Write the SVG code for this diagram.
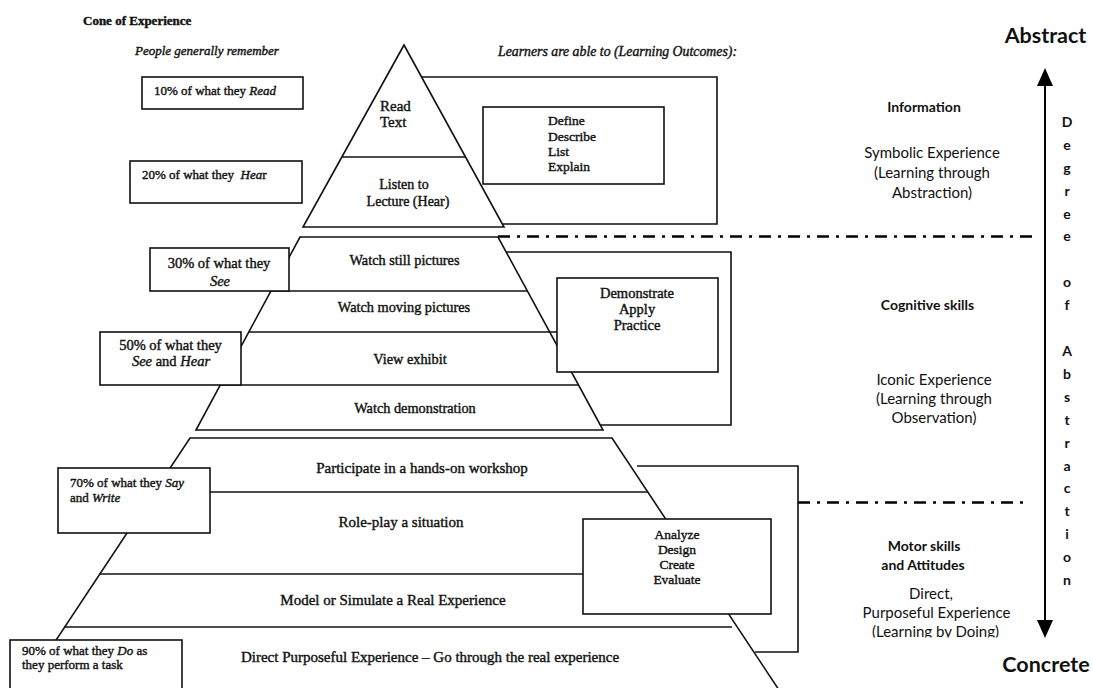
<svg xmlns="http://www.w3.org/2000/svg" width="1093" height="688" viewBox="0 0 1093 688">
  <style>
    .ln { fill: none; stroke: #111; stroke-width: 1.6; }
    .bx { fill: #fff; stroke: #111; stroke-width: 1.6; }
    .cone { fill: #fff; stroke: #111; stroke-width: 1.6; stroke-linejoin: miter; }
    .sf { font-family: "Liberation Serif", "Times New Roman", serif; fill: #111; stroke: #111; stroke-width: 0.4; }
    .it { font-style: italic; }
    .ss { font-family: Lato, "Liberation Sans", Arial, sans-serif; fill: #111; }
    .b { font-weight: bold; }
    .mid { text-anchor: middle; }
    .sep { fill: none; stroke: #000; stroke-width: 2.5; stroke-dasharray: 12 7 3 7; }
  </style>
  <defs>
    <marker id="head" markerWidth="18" markerHeight="16" refX="0" refY="8" orient="auto-start-reverse" markerUnits="userSpaceOnUse" viewBox="0 0 18 16">
      <path d="M0,0 L18,8 L0,16 Z" fill="#000"/>
    </marker>
    <clipPath id="cut-bottom">
      <rect x="840" y="600" width="200" height="37.5"/>
    </clipPath>
  </defs>

  <rect width="1093" height="688" fill="#fff"/>

  <!-- headings -->
  <g id="title">
    <text class="sf b" x="83" y="25" font-size="13">Cone of Experience</text>
    <text class="sf it" x="135" y="55" font-size="13">People generally remember</text>
    <text class="sf it" x="498" y="56" font-size="13.8">Learners are able to (Learning Outcomes):</text>
  </g>

  <!-- symbolic level: top of the cone -->
  <g id="outcome-symbolic">
    <path class="ln" d="M421,77 H717 V224 H503"/>
  </g>
  <g id="cone-symbolic">
    <path class="cone" d="M404,45 L303,227 L504,227 Z"/>
    <line class="ln" x1="342" y1="157" x2="465" y2="157"/>
    <text class="sf" x="380" y="111" font-size="15">Read</text>
    <text class="sf" x="380" y="127" font-size="15">Text</text>
    <text class="sf mid" x="404" y="189" font-size="14">Listen to</text>
    <text class="sf mid" x="408" y="206" font-size="14">Lecture (Hear)</text>
  </g>
  <g id="verbs-symbolic">
    <rect class="bx" x="483" y="107" width="181" height="77"/>
    <text class="sf" x="548" y="125" font-size="13.5">Define</text>
    <text class="sf" x="548" y="141" font-size="13.5">Describe</text>
    <text class="sf" x="548" y="156" font-size="13.5">List</text>
    <text class="sf" x="548" y="171" font-size="13.5">Explain</text>
  </g>
  <g id="remember-10">
    <rect class="bx" x="142" y="77" width="161" height="32"/>
    <text class="sf" x="154" y="95" font-size="13">10% of what they <tspan class="it">Read</tspan></text>
  </g>
  <g id="remember-20">
    <rect class="bx" x="130" y="161" width="172" height="42"/>
    <text class="sf" x="142" y="179" font-size="13">20% of what they&#160; <tspan class="it">Hea</tspan>r</text>
  </g>

  <!-- iconic level: middle of the cone -->
  <g id="outcome-iconic">
    <path class="ln" d="M506,252 H731 V425 H600"/>
  </g>
  <g id="cone-iconic">
    <path class="cone" d="M300,237 L498,237 L603,430 L196,430 Z"/>
    <line class="ln" x1="271" y1="291" x2="527" y2="291"/>
    <line class="ln" x1="249" y1="332" x2="557" y2="332"/>
    <line class="ln" x1="220" y1="385" x2="578" y2="385"/>
    <text class="sf mid" x="404.5" y="264.5" font-size="14.3">Watch still pictures</text>
    <text class="sf mid" x="404" y="311.5" font-size="14.3">Watch moving pictures</text>
    <text class="sf mid" x="410" y="364" font-size="14.3">View exhibit</text>
    <text class="sf mid" x="415" y="412.5" font-size="14.3">Watch demonstration</text>
  </g>
  <g id="verbs-iconic">
    <rect class="bx" x="557" y="278" width="161" height="94"/>
    <text class="sf mid" x="637" y="297.5" font-size="14.5">Demonstrate</text>
    <text class="sf mid" x="637" y="313.5" font-size="14.5">Apply</text>
    <text class="sf mid" x="637" y="330" font-size="14.5">Practice</text>
  </g>
  <g id="remember-30">
    <rect class="bx" x="150" y="248" width="139" height="43"/>
    <text class="sf mid" x="219" y="268" font-size="14.5">30% of what they</text>
    <text class="sf mid it" x="220" y="286" font-size="14.5">See</text>
  </g>
  <g id="remember-50">
    <rect class="bx" x="100" y="332" width="141" height="53"/>
    <text class="sf mid" x="170.5" y="350" font-size="14.5">50% of what they</text>
    <text class="sf mid" x="171" y="366" font-size="14.5"><tspan class="it">See</tspan> and <tspan class="it">Hear</tspan></text>
  </g>

  <!-- direct level: base of the cone -->
  <g id="outcome-direct">
    <path class="ln" d="M637,466 H798 V652 H755"/>
  </g>
  <g id="cone-direct">
    <path class="cone" d="M23,690 L190,438 L612,438 L779,690"/>
    <line class="ln" x1="210" y1="492" x2="648" y2="492"/>
    <line class="ln" x1="99" y1="574" x2="583" y2="574"/>
    <line class="ln" x1="64" y1="627" x2="732" y2="627"/>
    <text class="sf mid" x="422" y="473" font-size="15">Participate in a hands-on workshop</text>
    <text class="sf mid" x="401" y="527" font-size="15">Role-play a situation</text>
    <text class="sf mid" x="393" y="605" font-size="15">Model or Simulate a Real Experience</text>
    <text class="sf mid" x="430" y="662" font-size="15">Direct Purposeful Experience – Go through the real experience</text>
  </g>
  <g id="verbs-direct">
    <rect class="bx" x="583" y="519" width="188" height="95"/>
    <text class="sf mid" x="677" y="539" font-size="13.5">Analyze</text>
    <text class="sf mid" x="677" y="554" font-size="13.5">Design</text>
    <text class="sf mid" x="677" y="569" font-size="13.5">Create</text>
    <text class="sf mid" x="677" y="584" font-size="13.5">Evaluate</text>
  </g>
  <g id="remember-70">
    <rect class="bx" x="58" y="468" width="152" height="65"/>
    <text class="sf" x="70" y="487" font-size="13">70% of what they <tspan class="it">Say</tspan></text>
    <text class="sf" x="70" y="502" font-size="13">and <tspan class="it">Write</tspan></text>
  </g>
  <g id="remember-90">
    <rect class="bx" x="10" y="640" width="172" height="60"/>
    <text class="sf" x="22" y="655" font-size="13">90% of what they <tspan class="it">Do</tspan> as</text>
    <text class="sf" x="22" y="669" font-size="13">they perform a task</text>
  </g>

  <!-- separators and the abstraction axis -->
  <g id="connectors">
    <line class="sep" x1="498" y1="236.5" x2="1036" y2="236.5"/>
    <line class="sep" x1="798" y1="502.5" x2="1024" y2="502.5"/>
    <line x1="1045" y1="86" x2="1045" y2="620" stroke="#000" stroke-width="2" marker-start="url(#head)" marker-end="url(#head)"/>
  </g>

  <!-- axis labels -->
  <g id="axis-labels">
    <text class="ss b mid" x="1045.5" y="43" font-size="21.5">Abstract</text>
    <text class="ss b mid" x="1046" y="672" font-size="21.5">Concrete</text>
    <g class="ss b mid" font-size="14">
      <text x="1067" y="127">D</text>
      <text x="1067" y="150">e</text>
      <text x="1067" y="173">g</text>
      <text x="1067" y="196">r</text>
      <text x="1067" y="219">e</text>
      <text x="1067" y="241">e</text>
      <text x="1067" y="287">o</text>
      <text x="1067" y="310">f</text>
      <text x="1067" y="356">A</text>
      <text x="1067" y="379">b</text>
      <text x="1067" y="402">s</text>
      <text x="1067" y="425">t</text>
      <text x="1067" y="448">r</text>
      <text x="1067" y="471">a</text>
      <text x="1067" y="493">c</text>
      <text x="1067" y="516">t</text>
      <text x="1067" y="539">i</text>
      <text x="1067" y="562">o</text>
      <text x="1067" y="585">n</text>
    </g>
  </g>

  <!-- learning domain captions -->
  <g id="domain-information">
    <text class="ss b mid" x="924" y="112" font-size="14">Information</text>
    <text class="ss mid" x="932" y="158" font-size="15">Symbolic Experience</text>
    <text class="ss mid" x="932" y="178" font-size="15">(Learning through</text>
    <text class="ss mid" x="932" y="198" font-size="15">Abstraction)</text>
  </g>
  <g id="domain-cognitive">
    <text class="ss b mid" x="927.5" y="310" font-size="14">Cognitive skills</text>
    <text class="ss mid" x="934" y="385" font-size="15">Iconic Experience</text>
    <text class="ss mid" x="934" y="404" font-size="15">(Learning through</text>
    <text class="ss mid" x="934" y="423" font-size="15">Observation)</text>
  </g>
  <g id="domain-motor">
    <text class="ss b mid" x="924" y="551" font-size="14">Motor skills</text>
    <text class="ss b mid" x="923" y="570" font-size="14">and Attitudes</text>
    <text class="ss mid" x="931" y="599" font-size="15">Direct,</text>
    <text class="ss mid" x="936.5" y="618" font-size="15">Purposeful Experience</text>
    <text class="ss mid" x="935.5" y="637" font-size="15" clip-path="url(#cut-bottom)">(Learning by Doing)</text>
  </g>
</svg>
